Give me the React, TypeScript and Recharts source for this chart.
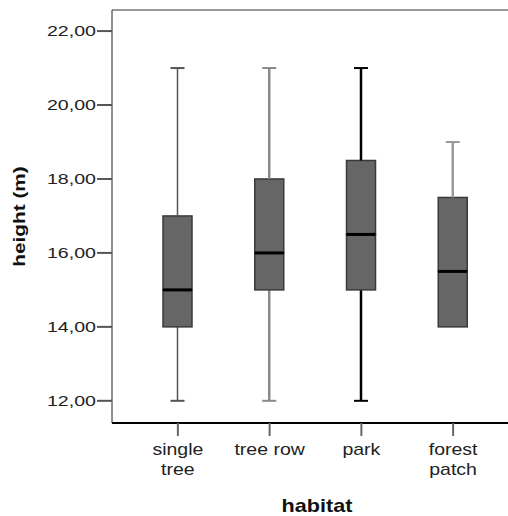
import React from 'react';
import {
  ComposedChart,
  Bar,
  XAxis,
  YAxis,
  ReferenceLine,
} from 'recharts';

// habitat categories (line break = wrapped tick label)
const categories = ['single\ntree', 'tree row', 'park', 'forest\npatch'];
const minValues = [12, 12, 12, 14];
const q1Values = [14, 15, 15, 14];
const medianValues = [15, 16, 16.5, 15.5];
const q3Values = [17, 18, 18.5, 17.5];
const maxValues = [21, 21, 21, 19];
const yTicks = [12, 14, 16, 18, 20, 22];
const yDomain = [11.4, 22.57];

const whiskerColors = ['#555555', '#8a8a8a', '#000000', '#9a9a9a'];
const whiskerWidths = [1.5, 2.5, 2.5, 2.5];

const data = categories.map((name, i) => ({
  name,
  base: minValues[i],
  lowWhisker: q1Values[i] - minValues[i],
  lowBox: medianValues[i] - q1Values[i],
  highBox: q3Values[i] - medianValues[i],
  highWhisker: maxValues[i] - q3Values[i],
}));

const FONT = '"Liberation Sans", Arial, sans-serif';

const Empty = () => null;

const LowWhisker = (props: any) => {
  const { x, y, width, height, index } = props;
  if (!height || height <= 0) return null;
  const cx = x + width / 2;
  const c = whiskerColors[index];
  const w = whiskerWidths[index];
  return (
    <g>
      <line x1={cx} x2={cx} y1={y} y2={y + height} stroke={c} strokeWidth={w} />
      <line x1={cx - 7} x2={cx + 7} y1={y + height} y2={y + height} stroke={c} strokeWidth={2} />
    </g>
  );
};

const HighWhisker = (props: any) => {
  const { x, y, width, height, index } = props;
  if (!height || height <= 0) return null;
  const cx = x + width / 2;
  const c = whiskerColors[index];
  const w = whiskerWidths[index];
  return (
    <g>
      <line x1={cx} x2={cx} y1={y} y2={y + height} stroke={c} strokeWidth={w} />
      <line x1={cx - 7} x2={cx + 7} y1={y} y2={y} stroke={c} strokeWidth={2} />
    </g>
  );
};

const LowBox = (props: any) => {
  const { x, y, width, height } = props;
  if (!height || height <= 0) return null;
  return (
    <rect x={x} y={y} width={width} height={height} fill="#666666" stroke="#3a3a3a" strokeWidth={1.5} />
  );
};

const HighBox = (props: any) => {
  const { x, y, width, height } = props;
  return (
    <g>
      {height > 0 && (
        <rect x={x} y={y} width={width} height={height} fill="#666666" stroke="#3a3a3a" strokeWidth={1.5} />
      )}
      <line x1={x} x2={x + width} y1={y + height} y2={y + height} stroke="#000" strokeWidth={3} />
    </g>
  );
};

const YTick = (props: any) => {
  const { x, y, payload } = props;
  const label = Number(payload.value).toFixed(2).replace('.', ',');
  return (
    <g transform={`translate(${x - 1},${y}) scale(1.4,1)`}>
      <text x={0} y={0} dy={5} textAnchor="end" fontFamily={FONT} fontSize={14} fill="#222">
        {label}
      </text>
    </g>
  );
};

const XTick = (props: any) => {
  const { x, y, payload } = props;
  const lines = String(payload.value).split('\n');
  return (
    <g transform={`translate(${x},${y}) scale(1.22,1)`}>
      {lines.map((ln, i) => (
        <text key={i} x={0} y={17 + i * 20} textAnchor="middle" fontFamily={FONT} fontSize={16} fill="#222">
          {ln}
        </text>
      ))}
    </g>
  );
};

const YLabel = (props: any) => {
  const { viewBox } = props;
  const cx = viewBox.x + 19;
  const cy = viewBox.y + viewBox.height / 2;
  return (
    <g transform={`translate(${cx},${cy}) rotate(-90) scale(1.3,1)`}>
      <text x={0} y={0} dy={6} textAnchor="middle" fontFamily={FONT} fontSize={16} fontWeight="bold" fill="#111">
        height (m)
      </text>
    </g>
  );
};

const XLabel = (props: any) => {
  const { viewBox } = props;
  const cx = viewBox.x + viewBox.width / 2 + 7;
  const by = viewBox.y + 89;
  return (
    <g transform={`translate(${cx},${by}) scale(1.2,1)`}>
      <text x={0} y={0} textAnchor="middle" fontFamily={FONT} fontSize={18} fontWeight="bold" fill="#111">
        habitat
      </text>
    </g>
  );
};

export default function App() {
  return (
    <div style={{ position: 'absolute', left: 0, top: 0, width: 508, height: 516, background: '#fff' }}>
      <ComposedChart
        width={508}
        height={516}
        data={data}
        margin={{ top: 10, right: 0, bottom: 0, left: 0 }}
      >
        <XAxis
          dataKey="name"
          height={93}
          padding={{ left: 20, right: 9 }}
          axisLine={{ stroke: '#000', strokeWidth: 2 }}
          tickLine={{ stroke: '#666', strokeWidth: 2 }}
          tickSize={13}
          tickMargin={2}
          tick={<XTick />}
          interval={0}
          label={{ content: <XLabel /> }}
        />
        <YAxis
          type="number"
          width={112}
          domain={yDomain}
          ticks={yTicks}
          allowDataOverflow
          axisLine={{ stroke: '#222', strokeWidth: 1 }}
          tickLine={{ stroke: '#555', strokeWidth: 2 }}
          tickSize={15}
          tickMargin={0}
          tick={<YTick />}
          label={{ content: <YLabel /> }}
        />
        <ReferenceLine y={yDomain[1]} stroke="#999" strokeWidth={2} />
        <Bar dataKey="base" stackId="box" barSize={29} shape={<Empty />} isAnimationActive={false} />
        <Bar dataKey="lowWhisker" stackId="box" barSize={29} shape={<LowWhisker />} isAnimationActive={false} />
        <Bar dataKey="lowBox" stackId="box" barSize={29} shape={<LowBox />} isAnimationActive={false} />
        <Bar dataKey="highBox" stackId="box" barSize={29} shape={<HighBox />} isAnimationActive={false} />
        <Bar dataKey="highWhisker" stackId="box" barSize={29} shape={<HighWhisker />} isAnimationActive={false} />
      </ComposedChart>
    </div>
  );
}
